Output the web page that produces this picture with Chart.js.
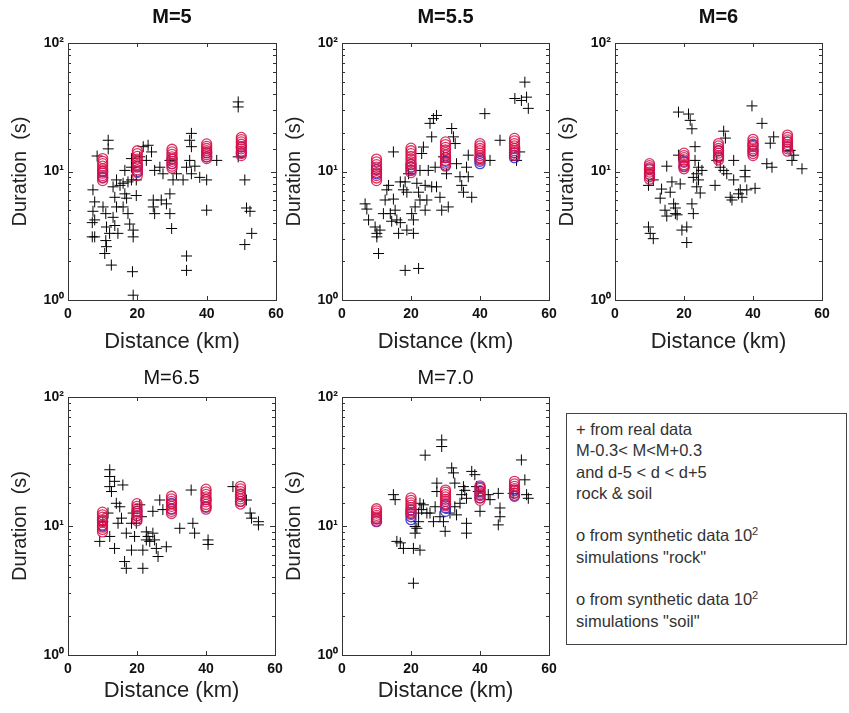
<!DOCTYPE html>
<html>
<head>
<meta charset="utf-8">
<script src="https://cdn.jsdelivr.net/npm/chart.js@4.4.1/dist/chart.umd.min.js"></script>
<style>
body { margin: 0; background: #fff; width: 849px; height: 713px; position: relative; overflow: hidden; font-family: "Liberation Sans", Arial, sans-serif; }
canvas { position: absolute; }
#note { position: absolute; left: 566px; top: 413px; width: 270px; height: 225px; border: 1px solid #444; padding: 5px 0 0 9px; font-size: 16.5px; line-height: 21.3px; color: #333; }
#note sup { font-size: 11px; line-height: 0; }
</style>
</head>
<body>
<canvas id="m5" width="290" height="355" style="left:0;top:0"></canvas>
<canvas id="m55" width="290" height="355" style="left:274px;top:0"></canvas>
<canvas id="m6" width="302" height="355" style="left:547px;top:0"></canvas>
<canvas id="m65" width="290" height="355" style="left:0;top:354px"></canvas>
<canvas id="m70" width="290" height="355" style="left:274px;top:354px"></canvas>
<div id="note">+ from real data<br>M-0.3&lt; M&lt;M+0.3<br>and d-5 &lt; d &lt; d+5<br>rock &amp; soil<br><br>o from synthetic data 10<sup>2</sup><br>simulations "rock"<br><br>o from synthetic data 10<sup>2</sup><br>simulations "soil"</div>
<script>
// distances of the synthetic runs
const simDist = [10, 20, 30, 40, 50];
const xTicks = [0, 20, 40, 60];
const yTickLabels = { 1: '10⁰', 10: '10¹', 100: '10²' };

// real records [distance km, duration s]
const realM5 = [[7.2,7.2],[7.7,5.8],[7.2,4.9],[7.7,4.2],[7.0,4.0],[7.0,3.1],[7.7,3.1],[8.4,13.2],[11.6,17.5],[11.6,15],[10.1,5.3],[10.9,4.7],[11.1,3.7],[10.9,2.9],[11.1,2.6],[10.6,2.3],[12.5,1.87],[13,7.6],[13.5,6.3],[14,5.3],[13,4.4],[13.5,3.8],[14.4,3.3],[12,3.3],[14,8.6],[15,7.8],[15.9,8.1],[16.4,6.7],[16.9,6.2],[17.3,8.3],[18.3,8.6],[18.3,10.8],[18.3,12.6],[16.4,10.2],[15.9,5.3],[17.3,4.7],[17.8,3.9],[18.8,3.5],[18.8,3.1],[18.6,1.66],[18.8,1.09],[19.7,6.5],[19.7,8.6],[20.7,13],[21.7,15.6],[22.6,12.2],[23.1,16],[24.1,14.2],[24.6,6],[24.6,5.3],[25,4.7],[25,10.2],[26.5,10.8],[27.4,9.6],[26.9,6],[28.4,5.6],[29.4,6.7],[29.4,4.7],[29.9,3.6],[30.3,8.6],[31.3,9.6],[33.2,8.6],[34.2,10.8],[35.1,12.2],[35.6,15.6],[35.6,19.8],[35.1,17.5],[35.6,9.6],[34.2,2.2],[34.2,1.7],[36.6,11],[40,8.6],[40,5],[42.9,12.2],[49.1,34.8],[49.1,31.8],[51,8.6],[51.5,5.2],[52.5,4.9],[53,3.3],[51,2.7],[49.1,13],[38,9],[29.4,12.2]];
const realM55 = [[6.7,5.6],[7.2,5.1],[7.7,4.2],[9.6,3.7],[10.1,3.3],[10.1,3.1],[10.6,2.3],[12,4.7],[12.5,6],[13,7.2],[13.5,7.8],[14,4.7],[14.4,4.1],[14.9,14.2],[15.4,5],[15.9,4.2],[16.4,3.3],[16.9,8.3],[17.8,7.2],[18.3,8.3],[18.8,3.5],[18.8,6.9],[19.3,9.6],[18.3,1.7],[22.2,1.76],[20.2,4.7],[20.7,4.2],[21.2,5.3],[21.7,8.1],[22.2,6.9],[22.6,10.2],[23.1,13.8],[23.6,15.5],[24.1,7.8],[24.1,5],[24.6,6],[25,10.2],[25.5,23.7],[26.5,25.8],[26,18.6],[27.4,27.3],[27,10.8],[27.4,7.6],[28.4,6.3],[28.9,5],[29.4,13],[30.3,9.6],[30.8,5.3],[31.8,21.6],[32.3,18.6],[32.8,16.5],[33.2,11.5],[34.2,9.1],[34.7,7.8],[35.2,6.9],[36.1,10.8],[36.6,9.1],[37.6,6.3],[36.6,13.4],[41.4,28.2],[42.9,12.2],[45.8,17.5],[50.1,37],[52,35.7],[53,49.6],[53.5,37.9],[54,31],[50.6,12.2],[51.5,14.2],[14.9,6.1],[11,3.5],[16.9,4],[26,7.6],[20.7,3.3],[22.6,6]];
const realM6 = [[9.7,3.7],[10.2,3.3],[11.1,3.0],[9.7,7.8],[11.1,8.6],[13.1,6.2],[13.5,7.3],[14.5,5],[15,4.5],[15,11],[16,6.9],[16.5,8.3],[17,5.6],[17.5,5.2],[17.5,4.7],[18,4.6],[18.4,13.4],[18.4,29],[18.9,8],[19.4,3.5],[20.8,3.7],[20.8,2.8],[21.3,28],[21.8,25],[22.3,21.5],[22.3,5.6],[22.7,4.7],[23.2,15.6],[23.2,12.2],[23.7,9.6],[23.7,7.6],[24.2,8.6],[24.7,6.8],[25.2,10.2],[22.7,9],[24.2,10.8],[29,7.8],[29.5,12.2],[30.5,10.8],[31.5,10.2],[31.5,20.6],[32,18.2],[32.4,9.6],[33.4,6.3],[33.9,6],[34.4,8.6],[34.4,12.2],[36.3,7.2],[36.8,6.3],[37.7,10.2],[37.7,9.1],[39.7,32.4],[40.6,7.4],[42.6,23.7],[44,11.5],[45.5,10.8],[45,16.6],[46,18.6],[50.8,14.6],[51.3,12.2],[51.8,13.4],[54.2,10.5],[38.2,7.2],[35.8,6.7]];
const realM65 = [[9.2,7.6],[12.1,27.3],[12.1,24.2],[12.1,20.2],[12.6,18.5],[13.5,22.2],[11.6,12.6],[12.1,8.3],[13.5,6.7],[14,15],[14.5,10.5],[15,14.1],[15.5,11.5],[15.9,20.8],[16.9,8.8],[16.4,5.3],[16.9,4.7],[18.4,6.5],[18.4,10.5],[18.9,12.6],[19.3,8.3],[19.8,10.5],[21.3,11.8],[21.7,4.7],[21.7,6.5],[22.7,7.8],[22.7,9],[23.2,8.3],[23.7,7.6],[24.6,8.8],[24.6,13],[25.1,7.8],[25.6,6.7],[26.1,5.8],[26.6,15.9],[27.5,13.4],[28.5,6.9],[32.4,9.6],[35.7,19],[36.2,10.5],[36.7,8.8],[40.6,7.8],[40.6,7.2],[47.8,20.2],[51.7,15.9],[52.8,12.6],[53.2,11.5],[55.2,10.8],[55.2,10.2],[20.8,14.6],[10.1,10.8]];
const realM70 = [[14.9,17.5],[15.4,16],[15.9,7.6],[16.9,7.4],[17.8,6.7],[20.7,6.7],[20.7,3.6],[21.2,8.8],[21.2,9.9],[21.7,9.6],[22.2,10.8],[22.2,12.6],[22.6,15],[22.6,6.5],[23.1,13.4],[23.6,14.6],[24.1,35.4],[24.6,12.6],[25.5,12.6],[26.5,10.8],[27,14.1],[27.5,21.5],[27.5,18.5],[28.9,46.5],[28.9,41.3],[28.4,11.8],[29.4,10.8],[29.9,9.1],[31.3,12.6],[31.8,28.2],[32.3,25.8],[32.7,21.5],[32.7,14.1],[33.2,12.2],[34.2,15],[34.7,17.5],[35.2,20.2],[35.6,18.9],[36.1,16.4],[36.1,10.5],[36.1,8.8],[37.6,26.5],[38.5,25],[39,20.2],[39.5,18.5],[40,13],[42.4,17.5],[42.9,16],[45.3,17.9],[45.8,13.8],[45.8,11.8],[45.3,10.2],[52,32.5],[53,22.8],[53.5,17.5],[54,16.4],[49.6,17.9]];

// synthetic durations, one list per simDist entry
const soilM5 = [[8.5,8.9,9.3,9.7,10.1,10.5,11,11.5,12,12.6],[9.3,9.8,10.3,10.8,11.3,11.9,12.5,13.1,13.8,14.5],[10.6,11,11.5,12,12.5,13,13.6,14.2,14.9],[12.6,13,13.5,14,14.5,15.1,15.7,16.4],[13.3,13.8,14.4,15,15.6,16.3,17,17.7,18.4]];
const rockM5 = [[9,10],[10,11],[11.5,12.5],[13,14],[14,15.5]];
const soilM55 = [[8.5,8.9,9.3,9.8,10.3,10.8,11.3,11.9,12.5],[9.8,10.3,10.8,11.3,11.9,12.5,13.1,13.8,14.5,15.2],[11,11.6,12.2,12.8,13.4,14,14.7,15.4,16.2,17],[12.3,12.8,13.3,13.9,14.5,15.1,15.8,16.5],[13.3,13.9,14.5,15.1,15.8,16.5,17.3,18.1]];
const rockM55 = [[9.6,10.4],[10.2,10.8,11.4],[11.2,12,12.8],[11.5,12,12.6],[12.8,13.4,14]];
const soilM6 = [[8.7,9.1,9.5,9.9,10.3,10.7,11.1,11.5],[10.5,10.9,11.3,11.8,12.3,12.8,13.3,13.9],[12.3,12.8,13.3,13.9,14.5,15.1,15.8,16.5],[13.3,13.8,14.4,15,15.6,16.3,17,17.8],[14.4,15,15.6,16.2,16.9,17.6,18.4,19.2]];
const rockM6 = [[9.5,10.5],[11,12],[13,14.5],[14.5,16],[15.5,17]];
const soilM65 = [[9,9.4,9.8,10.2,10.7,11.2,11.7,12.2,12.8],[11,11.5,12,12.5,13,13.6,14.2,14.9],[12.5,13,13.6,14.2,14.8,15.5,16.2,17],[13.5,14.1,14.7,15.4,16.1,16.8,17.6,18.4,19.3],[14.8,15.5,16.2,16.9,17.7,18.5,19.4,20.3]];
const rockM65 = [[10,11],[12,13],[13.5,15],[14,16],[15.5,17.5]];
const soilM70 = [[10.9,11.3,11.7,12.1,12.6,13.1,13.6],[12.3,12.8,13.3,13.9,14.5,15.1,15.8,16.5],[14.3,14.9,15.5,16.1,16.8,17.5,18.3,19],[15.8,16.5,17.2,18,18.8,19.6,20.5],[17.3,18,18.7,19.5,20.3,21.2,22.2]];
const rockM70 = [[10.8,11.4],[11.2,11.8,12.5,13.3],[13,13.8,14.6],[16.5,17.5,18.5,20],[17,18,19]];

Chart.defaults.font.family = '"Liberation Sans", Arial, sans-serif';
Chart.defaults.color = '#111';

function toPoints(pairs) {
	return pairs.map(p => ({ x: p[0], y: p[1] }));
}

function simPoints(lists) {
	const pts = [];
	lists.forEach((vals, i) => vals.forEach(v => pts.push({ x: simDist[i], y: v })));
	return pts;
}

// axes box with inward ticks, matlab style
const framePlugin = {
	id: 'frame',
	afterDraw(chart) {
		const { ctx, chartArea: a, scales } = chart;
		ctx.save();
		ctx.strokeStyle = '#333';
		ctx.lineWidth = 1;
		ctx.strokeRect(Math.round(a.left) + 0.5, Math.round(a.top) + 0.5, Math.round(a.width), Math.round(a.height));
		ctx.beginPath();
		xTicks.forEach(v => {
			const px = Math.round(scales.x.getPixelForValue(v)) + 0.5;
			ctx.moveTo(px, a.bottom); ctx.lineTo(px, a.bottom - 4);
			ctx.moveTo(px, a.top); ctx.lineTo(px, a.top + 4);
		});
		scales.y.ticks.forEach(t => {
			const py = Math.round(scales.y.getPixelForValue(t.value)) + 0.5;
			const len = yTickLabels[t.value] ? 5 : 3;
			ctx.moveTo(a.left, py); ctx.lineTo(a.left + len, py);
			ctx.moveTo(a.right, py); ctx.lineTo(a.right - len, py);
		});
		ctx.stroke();
		ctx.restore();
	}
};

function makePanel(id, title, bold, real, soil, rock, row, padRight) {
	const top = row === 1 ? { top: 5, bottom: 14 } : { top: 12, bottom: 7 };
	new Chart(document.getElementById(id), {
		type: 'scatter',
		data: {
			datasets: [{
				data: simPoints(soil),
				pointStyle: 'circle',
				pointRadius: 5,
				borderWidth: 1.3,
				borderColor: 'rgba(215,15,70,0.85)',
				backgroundColor: 'rgba(0,0,0,0)'
			}, {
				data: simPoints(rock),
				pointStyle: 'circle',
				pointRadius: 5,
				borderWidth: 1.3,
				borderColor: 'rgba(40,40,200,0.85)',
				backgroundColor: 'rgba(0,0,0,0)'
			}, {
				data: toPoints(real),
				pointStyle: 'cross',
				pointRadius: 5.5,
				borderWidth: 1,
				borderColor: '#000'
			}]
		},
		options: {
			responsive: false,
			animation: false,
			layout: { padding: { left: 0, right: padRight, top: 0, bottom: 0 } },
			plugins: {
				legend: { display: false },
				tooltip: { enabled: false },
				title: {
					display: true,
					text: title,
					fullSize: false,
					color: '#111',
					font: { size: 20, weight: bold ? 'bold' : 'normal' },
					padding: top
				}
			},
			scales: {
				x: {
					type: 'linear',
					min: 0,
					max: 60,
					afterFit: s => { s.height = row === 1 ? 55 : 54; },
					grid: { display: false, drawTicks: false },
					border: { display: false },
					ticks: { stepSize: 20, padding: 6, font: { size: 14, weight: 'bold' } },
					title: {
						display: true,
						text: 'Distance (km)',
						color: '#222',
						font: { size: 22 },
						padding: { top: 0, bottom: row === 1 ? 0 : 5 }
					}
				},
				y: {
					type: 'logarithmic',
					min: 1,
					max: 100,
					afterFit: s => { s.width = 68; },
					grid: { display: false, drawTicks: false },
					border: { display: false },
					ticks: {
						autoSkip: false,
						padding: 4,
						font: { size: 14, weight: 'bold' },
						callback: v => yTickLabels[v] || ''
					},
					title: {
						display: true,
						text: 'Duration  (s)',
						color: '#222',
						font: { size: 20 },
						padding: { top: 8, bottom: 0 }
					}
				}
			}
		},
		plugins: [framePlugin]
	});
}

makePanel('m5', 'M=5', true, realM5, soilM5, rockM5, 1, 14);
makePanel('m55', 'M=5.5', true, realM55, soilM55, rockM55, 1, 15);
makePanel('m6', 'M=6', true, realM6, soilM6, rockM6, 1, 27);
makePanel('m65', 'M=6.5', false, realM65, soilM65, rockM65, 2, 15);
makePanel('m70', 'M=7.0', false, realM70, soilM70, rockM70, 2, 15);
</script>
</body>
</html>
